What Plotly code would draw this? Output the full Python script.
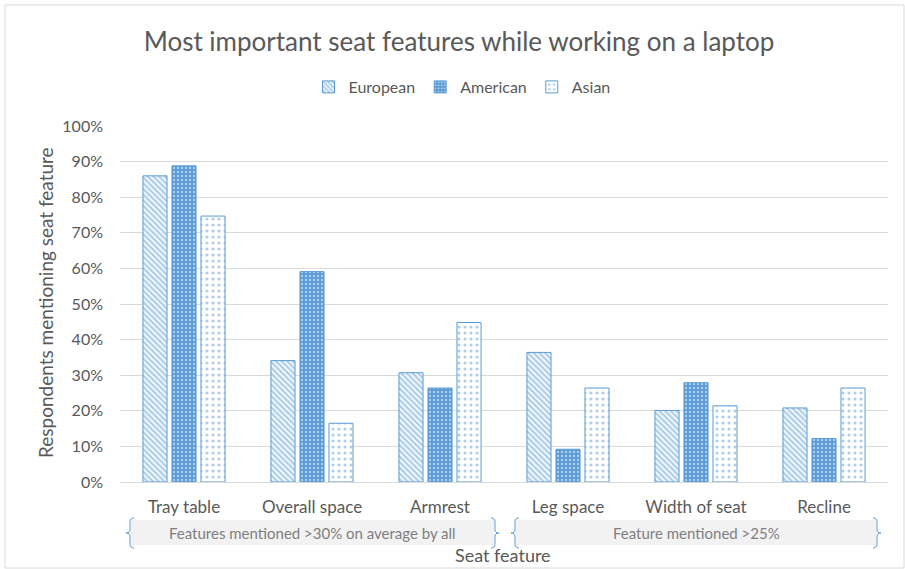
import plotly.graph_objects as go

categories = ["Tray table", "Overall space", "Armrest", "Leg space", "Width of seat", "Recline"]
european = [0.86, 0.341, 0.307, 0.364, 0.201, 0.208]
american = [0.888, 0.591, 0.264, 0.092, 0.279, 0.122]
asian = [0.747, 0.165, 0.448, 0.264, 0.214, 0.264]
series_names = ["European", "American", "Asian"]
group_labels = ["Features mentioned >30% on average by all", "Feature mentioned >25%"]

BLUE = "#5B9BD5"
GRAY = "#595959"
FONT = "Lato, 'Open Sans', sans-serif"

W, H = 905, 569
L, R, T, B = 120, 17, 126, 87
pw, ph = W - L - R, H - T - B

def px_x(p):
    return (p - L) / pw

def px_y(p):
    return (H - B - p) / ph

patterns = [
    dict(shape="\\", fgcolor=BLUE, bgcolor="white", size=4, solidity=0.6, fillmode="overlay"),
    dict(shape=".", fgcolor="white", bgcolor=BLUE, size=4, solidity=0.3, fillmode="overlay"),
    dict(shape=".", fgcolor=BLUE, bgcolor="white", size=6, solidity=0.22, fillmode="overlay"),
]

fig = go.Figure()
for name, vals, pat in zip(series_names, [european, american, asian], patterns):
    fig.add_trace(go.Bar(
        x=categories, y=vals, name=name,
        marker=dict(color="white", pattern=pat, line=dict(color=BLUE, width=1)),
    ))

fig.update_layout(
    width=W, height=H,
    margin=dict(l=L, r=R, t=T, b=B, autoexpand=False),
    paper_bgcolor="white", plot_bgcolor="white",
    barmode="group", bargap=0.32, bargroupgap=0.17,
    font=dict(family=FONT, color=GRAY, size=15),
    title=dict(text="Most important seat features while working on a laptop",
               x=459 / W, xanchor="center", xref="container",
               y=1 - 42 / H, yref="container", yanchor="middle",
               font=dict(size=26, color=GRAY, family=FONT)),
    legend=dict(orientation="h", xref="paper", x=px_x(462), xanchor="center",
                yref="paper", y=px_y(87), yanchor="middle",
                font=dict(size=16, color=GRAY), traceorder="normal"),
    showlegend=True,
)

fig.update_yaxes(range=[0, 1], dtick=0.1, tickformat=".0%", showgrid=True,
                 gridcolor="#D9D9D9", gridwidth=1, zeroline=False, showline=False,
                 ticks="", ticklabelstandoff=16, tickfont=dict(size=16, color=GRAY))
fig.update_xaxes(showline=True, linecolor="#D9D9D9", linewidth=1, ticks="",
                 ticklabelstandoff=10, tickfont=dict(size=17, color=GRAY), tickangle=0)

# Axis titles
fig.add_annotation(text="Respondents mentioning seat feature", x=px_x(45), y=px_y(303),
                   xref="paper", yref="paper", textangle=-90, showarrow=False,
                   font=dict(size=19, color=GRAY), xanchor="center", yanchor="middle")
fig.add_annotation(text="Seat feature", x=px_x(503), y=px_y(555),
                   xref="paper", yref="paper", showarrow=False,
                   font=dict(size=18, color=GRAY), xanchor="center", yanchor="middle")

# Group bands with curly braces
def brace_path(xp, y0p, y1p, direction):
    d = direction
    ym = (y0p + y1p) / 2
    pts = [
        ("M", xp - 4 * d, y0p),
        ("Q", xp, y0p, xp, y0p + 4),
        ("L", xp, ym - 3),
        ("Q", xp, ym, xp + 4 * d, ym),
        ("Q", xp, ym, xp, ym + 3),
        ("L", xp, y1p - 4),
        ("Q", xp, y1p, xp - 4 * d, y1p),
    ]
    out = []
    for seg in pts:
        cmd, *vals = seg
        coords = []
        for i in range(0, len(vals), 2):
            coords.append(f"{px_x(vals[i]):.5f},{px_y(vals[i + 1]):.5f}")
        out.append(cmd + " " + " ".join(coords))
    return " ".join(out)

bands = [(131, 494), (516, 876)]
for (x0, x1), lbl in zip(bands, group_labels):
    fig.add_shape(type="rect", xref="paper", yref="paper",
                  x0=px_x(x0), x1=px_x(x1), y0=px_y(545), y1=px_y(520),
                  fillcolor="#F2F2F2", line=dict(width=0), layer="below")
    fig.add_annotation(text=lbl, x=px_x((x0 + x1) / 2), y=px_y(532.5), xref="paper", yref="paper",
                       showarrow=False, font=dict(size=15, color="#7F7F7F"),
                       xanchor="center", yanchor="middle")
    fig.add_shape(type="path", xref="paper", yref="paper",
                  path=brace_path(x0 - 1, 518, 548, -1), line=dict(color=BLUE, width=1))
    fig.add_shape(type="path", xref="paper", yref="paper",
                  path=brace_path(x1 + 1, 518, 548, 1), line=dict(color=BLUE, width=1))

# Chart border
fig.add_shape(type="rect", xref="paper", yref="paper",
              x0=px_x(5), x1=px_x(904), y0=px_y(568), y1=px_y(5),
              line=dict(color="#D9D9D9", width=1), fillcolor="rgba(0,0,0,0)", layer="below")

fig.write_html("out.html", config={"displayModeBar": False},
               post_script="document.body.style.margin='0';document.body.style.overflow='hidden';")
